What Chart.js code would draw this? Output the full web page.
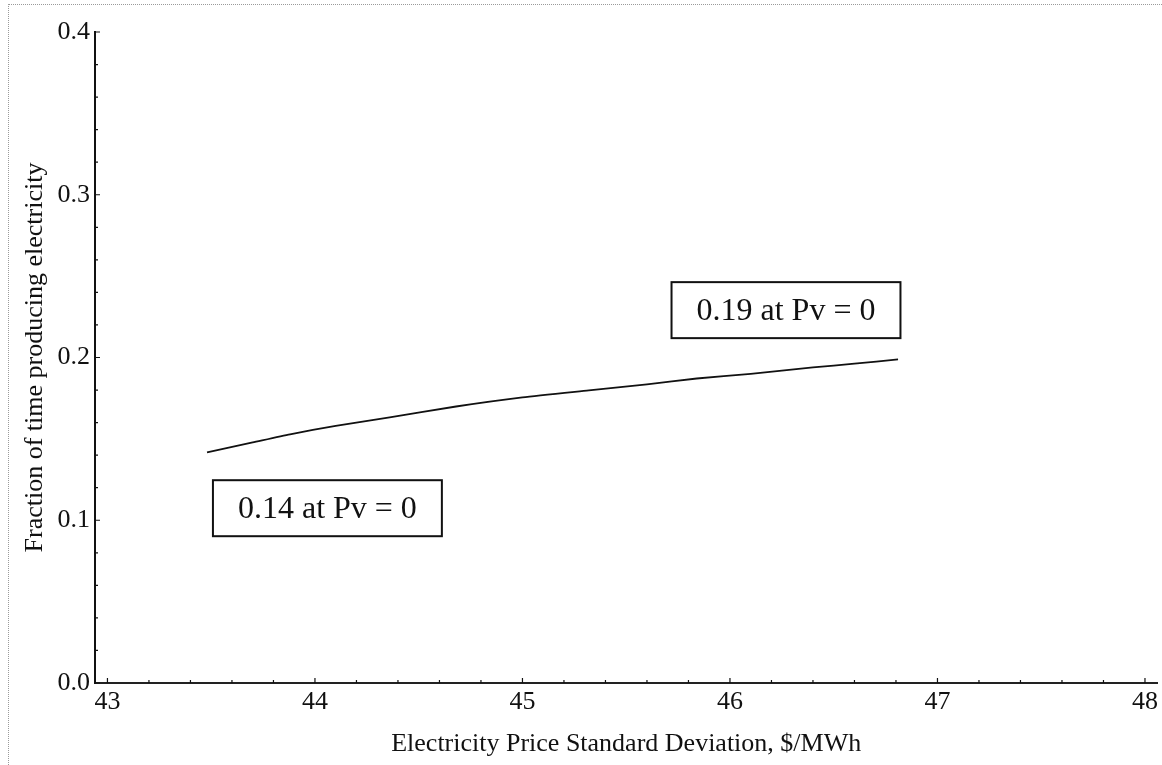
<!DOCTYPE html>
<html>
<head>
<meta charset="utf-8">
<script src="https://cdn.jsdelivr.net/npm/chart.js@4"></script>
<style>
  html, body { margin: 0; padding: 0; background: #fff; }
  #wrap { position: relative; width: 1162px; height: 765px; }
  #frame {
    position: absolute; left: 8px; top: 4px; right: 0; bottom: 0;
    border-top: 1px dotted #9a9a9a; border-left: 1px dotted #9a9a9a;
    pointer-events: none;
  }
  canvas { position: absolute; left: 0; top: 0; }
</style>
</head>
<body>
<div id="wrap">
  <canvas id="chart" width="1162" height="765"></canvas>
  <div id="frame"></div>
</div>
<script>
// price standard deviation ($/MWh) vs fraction of time producing
const priceStdDev = [43.48, 43.70, 43.88, 44.10, 44.36, 44.68, 45.00, 45.32, 45.60, 45.84, 46.10, 46.40, 46.60, 46.81];
const fractionTime = [0.1417, 0.1478, 0.1528, 0.1580, 0.1632, 0.1699, 0.1755, 0.1798, 0.1835, 0.1871, 0.1900, 0.1939, 0.1962, 0.1988];

const xTicks = [43, 44, 45, 46, 47, 48];
const yTicks = [0.0, 0.1, 0.2, 0.3, 0.4];

// callout boxes: text and centre in data units
const noteText = ['0.14 at Pv = 0', '0.19 at Pv = 0'];
const noteX = [44.06, 46.27];
const noteY = [0.1074, 0.2291];

const SERIF = '"Liberation Serif", "Times New Roman", serif';

// inward major/minor ticks, Mathematica style
const inwardTicks = {
  id: 'inwardTicks',
  afterDraw(chart) {
    const { ctx, scales: { x, y }, chartArea: a } = chart;
    ctx.save();
    ctx.strokeStyle = '#111';
    ctx.lineWidth = 1.2;
    ctx.beginPath();
    for (let v = 42.0; v <= 48.06; v += 0.2) {
      const r = Math.round(v * 10) / 10;
      if (r < x.min || r > x.max) continue;
      const major = Math.abs(r - Math.round(r)) < 1e-6;
      const px = x.getPixelForValue(r);
      ctx.moveTo(px, a.bottom);
      ctx.lineTo(px, a.bottom - (major ? 5 : 3));
    }
    for (let i = 0; i <= 20; i++) {
      const r = i * 0.02;
      const major = i % 5 === 0;
      const py = y.getPixelForValue(r);
      ctx.moveTo(a.left, py);
      ctx.lineTo(a.left + (major ? 5 : 3), py);
    }
    ctx.stroke();
    ctx.restore();
  }
};

// boxed text callouts
const callouts = {
  id: 'callouts',
  afterDatasetsDraw(chart) {
    const { ctx, scales: { x, y } } = chart;
    ctx.save();
    ctx.font = '32px ' + SERIF;
    ctx.textAlign = 'center';
    ctx.textBaseline = 'middle';
    noteText.forEach((t, i) => {
      const cx = x.getPixelForValue(noteX[i]);
      const cy = y.getPixelForValue(noteY[i]);
      const w = ctx.measureText(t).width + 50;
      const h = 56;
      ctx.fillStyle = '#fff';
      ctx.fillRect(cx - w / 2, cy - h / 2, w, h);
      ctx.strokeStyle = '#111';
      ctx.lineWidth = 2;
      ctx.strokeRect(cx - w / 2, cy - h / 2, w, h);
      ctx.fillStyle = '#111';
      ctx.fillText(t, cx, cy + 1);
    });
    ctx.restore();
  }
};

new Chart(document.getElementById('chart').getContext('2d'), {
  type: 'line',
  data: {
    datasets: [{
      data: priceStdDev.map((v, i) => ({ x: v, y: fractionTime[i] })),
      borderColor: '#111',
      borderWidth: 1.8,
      pointRadius: 0,
      tension: 0.2,
      fill: false
    }]
  },
  options: {
    responsive: false,
    animation: false,
    layout: { padding: { top: 32, right: 2, bottom: 0, left: 0 } },
    plugins: { legend: { display: false }, tooltip: { enabled: false } },
    scales: {
      x: {
        type: 'linear',
        min: 42.94,
        max: 48.06,
        afterFit: s => { s.height = 82; },
        afterBuildTicks: s => { s.ticks = xTicks.map(v => ({ value: v })); },
        grid: { display: true, drawOnChartArea: false, drawTicks: false },
        border: { display: true, color: '#222', width: 2 },
        ticks: {
          padding: 4,
          color: '#111',
          font: { family: SERIF, size: 26 },
          callback: v => String(v)
        },
        title: {
          display: true,
          text: 'Electricity Price Standard Deviation, $/MWh',
          color: '#111',
          font: { family: SERIF, size: 26 },
          padding: { top: 0, bottom: 5 }
        }
      },
      y: {
        min: 0,
        max: 0.4,
        afterFit: s => { s.width = 95; },
        afterBuildTicks: s => { s.ticks = yTicks.map(v => ({ value: v })); },
        grid: { display: true, drawOnChartArea: false, drawTicks: false },
        border: { display: true, color: '#111', width: 2 },
        ticks: {
          padding: 5,
          color: '#111',
          font: { family: SERIF, size: 26 },
          callback: v => v.toFixed(1)
        },
        title: {
          display: true,
          text: 'Fraction of time producing electricity',
          color: '#111',
          font: { family: SERIF, size: 26 },
          padding: { top: 20, bottom: 0 }
        }
      }
    }
  },
  plugins: [inwardTicks, callouts]
});
</script>
</body>
</html>
